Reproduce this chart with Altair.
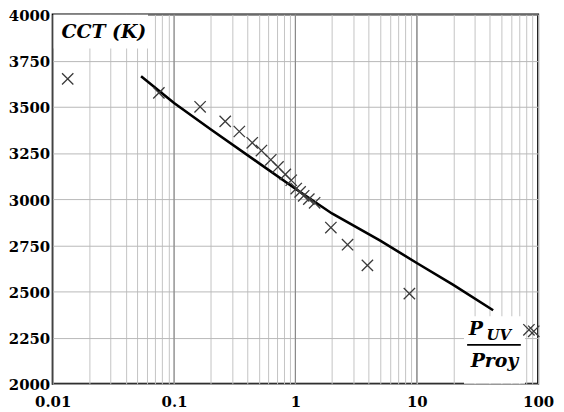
import altair as alt
import pandas as pd

# measured points (ratio P_UV/Proy, CCT in K)
pt_x = [0.0133, 0.075, 0.164, 0.264, 0.345, 0.441, 0.525, 0.627, 0.719, 0.826,
        0.924, 1.016, 1.094, 1.17, 1.29, 1.44, 1.96, 2.69, 3.92, 8.69, 84, 92]
pt_y = [3651, 3575, 3500, 3421, 3366, 3305, 3263, 3213, 3174, 3134,
        3102, 3057, 3039, 3018, 3000, 2980, 2846, 2753, 2641, 2488, 2292, 2284]

# fitted curve
cv_x = [0.0535, 0.1, 0.2, 0.5, 1, 2, 5, 10, 20, 42.6]
cv_y = [3665, 3520, 3378, 3195, 3056, 2922, 2775, 2654, 2535, 2398]

x_ticks = [d * m for d in [0.01, 0.1, 1, 10] for m in range(1, 10)] + [100]
x_major = [0.1, 1, 10]
y_ticks = [2000, 2250, 2500, 2750, 3000, 3250, 3500, 3750, 4000]

# annotation labels
lab_text = ["CCT (K)", "P", "UV", "Proy"]
lab_x = [0.0118, 26.8, 37.5, 27.8]
lab_y = [3905, 2298, 2262, 2122]
lab_size = [19, 19, 15, 19]

pts = pd.DataFrame({"x": pt_x, "y": pt_y})
cv = pd.DataFrame({"x": cv_x, "y": cv_y})

FONT = "DejaVu Serif"
xs = alt.Scale(type="log", domain=[0.01, 100], nice=False)
ys = alt.Scale(domain=[2000, 4000], nice=False, zero=False)

xaxis = alt.Axis(values=x_ticks, grid=True, gridColor="#c4c4c4", gridWidth=1,
                 labelExpr="(datum.value==0.01||datum.value==0.1||datum.value==1||datum.value==10||datum.value==100) ? datum.label : ''",
                 format="~g", ticks=False, domain=False, labelFont=FONT,
                 labelFontSize=15, labelFontWeight="bold", labelColor="black",
                 labelPadding=11, title=None, labelFlush=False)
yaxis = alt.Axis(values=y_ticks, grid=True, gridColor="#b8b8b8", gridWidth=1,
                 ticks=False, domain=False, labelFont=FONT, labelFontSize=15,
                 labelFontWeight="bold", labelColor="black", labelPadding=3,
                 labelOffset=1, title=None, format="d", labelFlush=False)

grid_major = alt.Chart(pd.DataFrame({"x": x_major})).mark_rule(
    color="#8a8a8a", strokeWidth=1.2).encode(
    x=alt.X("x:Q", scale=xs, axis=xaxis))

boxes = pd.DataFrame({
    "x1": [0.0102, 24.5], "x2": [0.061, 78],
    "y1": [3815, 2000], "y2": [3998, 2365]})
box = alt.Chart(boxes).mark_rect(color="white").encode(
    x=alt.X("x1:Q", scale=xs, axis=xaxis), x2="x2:Q",
    y=alt.Y("y1:Q", scale=ys, axis=yaxis), y2="y2:Q")

line = alt.Chart(cv).mark_line(color="black", strokeWidth=2.6).encode(
    x=alt.X("x:Q", scale=xs, axis=xaxis),
    y=alt.Y("y:Q", scale=ys, axis=yaxis))

cross = alt.Chart(pts).mark_point(shape="M-1,-1L1,1M1,-1L-1,1", size=130, color="#3a3a3a",
                                  strokeWidth=1.3, filled=False, opacity=1).encode(
    x=alt.X("x:Q", scale=xs, axis=xaxis),
    y=alt.Y("y:Q", scale=ys, axis=yaxis))

texts = []
for t, x, y, s in zip(lab_text, lab_x, lab_y, lab_size):
    texts.append(alt.Chart(pd.DataFrame({"x": [x], "y": [y], "t": [t]})).mark_text(
        font=FONT, fontSize=s, fontWeight="bold", fontStyle="italic",
        align="left", baseline="middle", color="black").encode(
        x=alt.X("x:Q", scale=xs, axis=xaxis),
        y=alt.Y("y:Q", scale=ys, axis=yaxis),
        text="t:N"))

frac = alt.Chart(pd.DataFrame({"x": [26.0], "x2": [72.0], "y": [2210]})).mark_rule(
    color="black", strokeWidth=1.8).encode(
    x=alt.X("x:Q", scale=xs, axis=xaxis), x2="x2:Q",
    y=alt.Y("y:Q", scale=ys, axis=yaxis))

chart = alt.layer(grid_major, box, line, cross, frac, *texts).properties(
    width=489, height=372,
    autosize=alt.AutoSizeParams(type="none"),
    padding={"left": 45, "top": 5, "right": 18, "bottom": 30},
    background="white"
).configure_view(stroke="black", strokeWidth=2)

chart.save("out.html", embed_options={"renderer": "svg", "actions": False})
